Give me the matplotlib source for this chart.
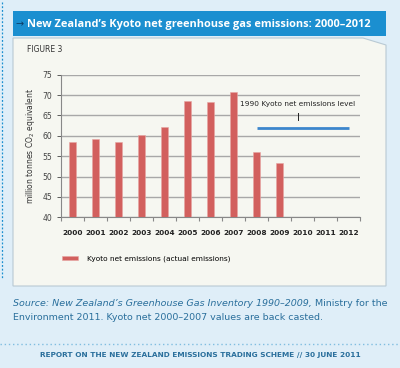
import matplotlib.pyplot as plt
from matplotlib.patches import Rectangle, Polygon
from matplotlib.lines import Line2D

years = ['2000', '2001', '2002', '2003', '2004', '2005', '2006',
         '2007', '2008', '2009', '2010', '2011', '2012']
emissions = [58.5, 59.2, 58.5, 60.1, 62.1, 68.6, 68.2, 70.7, 56.0, 53.4]
level_1990 = 62.0
level_years = ['2008', '2012']

W, H = 400, 368
BG = '#dfeef8'
PANEL = '#f6f7f1'
BLUE = '#1b8fd0'
BAR = '#d2605e'
TXT = '#2a6f9c'

fig = plt.figure(figsize=(4, 3.68), dpi=100, facecolor=BG)

def px(x, y):
    return x / W, 1 - y / H

# dotted margin on the left
fig.add_artist(Line2D([0.004, 0.004], [1 - 2 / H, 1 - 278 / H], color=BLUE,
                      lw=0.9, ls=(0, (1.5, 1.5)), zorder=-2))

# title band
x0, y0 = px(13, 36)
fig.add_artist(Rectangle((x0, y0), 373 / W, 25 / H, facecolor=BLUE,
                         edgecolor='none', zorder=-2))
fig.text(px(15, 0)[0], px(0, 24)[1], '\u2192', color='#0d3d66', fontsize=7,
         va='center', ha='left')
fig.text(px(27, 0)[0], px(0, 24)[1],
         "New Zealand\u2019s Kyoto net greenhouse gas emissions: 2000\u20132012",
         color='white', fontsize=7.9, fontweight='bold', va='center', ha='left',
         family='Open Sans')

# panel with bevelled corner
corners = [(13, 38), (363, 38), (386, 45), (386, 286), (13, 286)]
fig.add_artist(Polygon([px(*c) for c in corners], closed=True, facecolor=PANEL,
                       edgecolor='#b9cad4', lw=0.8, zorder=-2))
fig.text(px(27, 0)[0], px(0, 49)[1], 'FIGURE 3', fontsize=5.5, color='#333333',
         va='center', ha='left')

ax = fig.add_axes([61 / W, 1 - 217.3 / H, 299 / W, 142.6 / H])
ax.set_facecolor('none')
xpos = list(range(len(years)))
bars = ax.bar(xpos[:len(emissions)], emissions, width=0.32, color=BAR,
              edgecolor='#e8a5a2', lw=0.4, zorder=3,
              label='Kyoto net emissions (actual emissions)')
x1 = years.index(level_years[0])
x2 = years.index(level_years[1])
ax.plot([x1, x2], [level_1990, level_1990], color='#3c86cc', lw=2, zorder=3,
        solid_capstyle='butt')
ax.plot([(x1 + x2) / 2 - 0.2] * 2, [63.8, 65.6], color='#222222', lw=0.7)
ax.text((x1 + x2) / 2 - 0.2, 67.8, '1990 Kyoto net emissions level',
        fontsize=5.3, ha='center', va='center', color='#222222')

ax.set_xlim(-0.5, len(years) - 0.5)
ax.set_ylim(40, 75)
ax.set_yticks(range(40, 76, 5))
ax.yaxis.grid(True, color='#a8a8a8', lw=1)
ax.set_axisbelow(True)
ax.set_xticks(xpos)
ax.set_xticklabels(years, fontsize=5.3, fontweight='bold', color='#222222')
ax.set_xticks([i - 0.5 for i in range(len(years) + 1)], minor=True)
ax.tick_params(axis='x', which='major', length=0, pad=9)
ax.tick_params(axis='x', which='minor', length=3, color='#888888', width=0.8)
ax.tick_params(axis='y', labelsize=5.5, colors='#444444', length=3, width=0.6)
for s in ['top', 'right']:
    ax.spines[s].set_visible(False)
ax.spines['left'].set_color('#888888')
ax.spines['bottom'].set_color('#888888')
ax.set_ylabel('million tonnes CO$_2$ equivalent', fontsize=5.5, color='#333333',
              labelpad=4)

fig.legend(handles=[bars], loc='center left', bbox_to_anchor=px(55, 259),
           frameon=False, fontsize=5.3, handlelength=2.2, handleheight=0.6,
           handletextpad=1.2)

# source note
src = fig.text(px(13, 0)[0], px(0, 304)[1],
               'Source: New Zealand\u2019s Greenhouse Gas Inventory 1990\u20132009,',
               fontsize=6.8, color=TXT, style='italic', va='center', ha='left')
fig.canvas.draw()
bb = src.get_window_extent()
fig.text(bb.x1 / W + 3 / W, px(0, 304)[1], 'Ministry for the',
         fontsize=6.8, color=TXT, va='center', ha='left')
fig.text(px(13, 0)[0], px(0, 318)[1],
         'Environment 2011. Kyoto net 2000\u20132007 values are back casted.',
         fontsize=6.8, color=TXT, va='center', ha='left')

fig.add_artist(Line2D([0, 1], [1 - 344 / H] * 2, color='#7fbde0', lw=1,
                      ls=(0, (1, 2))))
fig.text(0.5, px(0, 355)[1],
         'REPORT ON THE NEW ZEALAND EMISSIONS TRADING SCHEME // 30 JUNE 2011',
         fontsize=5.3, color=TXT, fontweight='bold', ha='center', va='center')

fig.savefig('out.png', dpi=100, facecolor=BG)
